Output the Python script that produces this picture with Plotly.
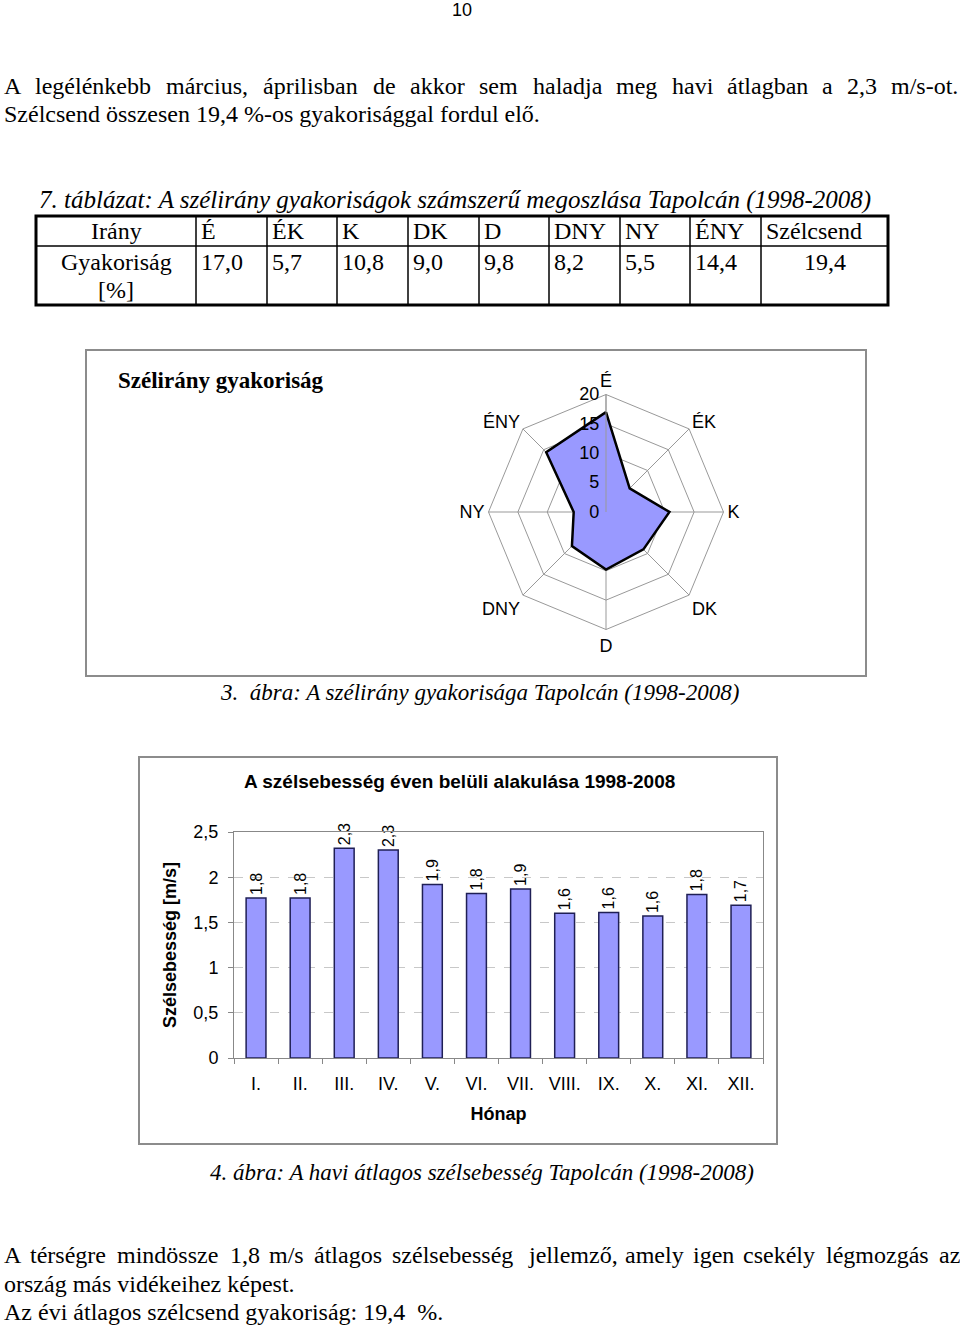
import plotly.graph_objects as go

W, H = 960, 1326
SERIF = "Liberation Serif"
SANS = "Liberation Sans"

# wind direction frequencies (table 7 / figure 3)
directions = ["É", "ÉK", "K", "DK", "D", "DNY", "NY", "ÉNY"]
frequency = [17.0, 5.7, 10.8, 9.0, 9.8, 8.2, 5.5, 14.4]
calm_label = "Szélcsend"
calm_freq = 19.4
radial_ticks = [0, 5, 10, 15, 20]

# monthly mean wind speed (figure 4)
months = ["I.", "II.", "III.", "IV.", "V.", "VI.", "VII.", "VIII.", "IX.", "X.", "XI.", "XII."]
wind_speed = [1.77, 1.77, 2.32, 2.30, 1.92, 1.82, 1.87, 1.60, 1.61, 1.57, 1.81, 1.69]
speed_ticks = [0, 0.5, 1, 1.5, 2, 2.5]

# page text
para1_line1 = "A legélénkebb március, áprilisban de akkor sem haladja meg havi átlagban a 2,3 m/s-ot."
para1_line2 = "Szélcsend összesen 19,4 %-os gyakorisággal fordul elő."
para2_line1 = "A térségre mindössze 1,8 m/s átlagos szélsebesség jellemző, amely igen csekély légmozgás az"
para2_line2 = "ország más vidékeihez képest."
para2_line3 = "Az évi átlagos szélcsend gyakoriság: 19,4  %."
table_title = "7. táblázat: A szélirány gyakoriságok számszerű megoszlása Tapolcán (1998-2008)"
caption3 = "3.  ábra: A szélirány gyakorisága Tapolcán (1998-2008)"
caption4 = "4. ábra: A havi átlagos szélsebesség Tapolcán (1998-2008)"

# rough Times/Liberation Serif advance widths (per 1000 em) for justifying lines
GLYPH_W = {c: 500 for c in "bdghnopquvxy0123456789öőüóú"}
GLYPH_W.update({c: 444 for c in "aceszáé"})
GLYPH_W.update({c: 278 for c in "ijltí/"})
GLYPH_W.update({"f": 333, "r": 333, "-": 333, "m": 778, "k": 500, ",": 250, ".": 250,
                "A": 722, "S": 556, "%": 833})


def word_width(word, size):
    return sum(GLYPH_W.get(c, 500) for c in word) * size / 1000


def fx(x):
    return x / W


def fy(y):
    return 1 - y / H


def comma(v):
    return f"{v:.1f}".replace(".", ",")


annotations = []
shapes = []


def text(x, y, s, size=24, family=SERIF, anchor="left", **kw):
    annotations.append(dict(
        x=fx(x), y=fy(y), xref="paper", yref="paper", text=s, showarrow=False,
        xanchor=anchor, yanchor="middle", font=dict(family=family, size=size, color="black"), **kw))


def justified(line_text, y, left=2, right=958, size=24):
    words = line_text.split(" ")
    widths = [word_width(w, size) for w in words]
    gap = (right - left - sum(widths)) / (len(words) - 1)
    x = left
    for w, wd in zip(words, widths):
        text(x, y, w, size=size)
        x += wd + gap


def rect(x0, y0, x1, y1, color, width):
    shapes.append(dict(type="rect", xref="paper", yref="paper", x0=fx(x0), x1=fx(x1),
                       y0=fy(y0), y1=fy(y1), line=dict(color=color, width=width)))


def line(x0, y0, x1, y1, width=1.5):
    shapes.append(dict(type="line", xref="paper", yref="paper", x0=fx(x0), x1=fx(x1),
                       y0=fy(y0), y1=fy(y1), line=dict(color="black", width=width)))


# page number
text(462, 10, "10", size=18, family=SANS, anchor="center")

justified(para1_line1, 86)
text(2, 114, para1_line2)

justified(para2_line1, 1255)
text(2, 1284, para2_line2)
text(2, 1312, para2_line3)

# table
text(37, 200, table_title, size=25, font_style="italic")
col_edges = [36, 196, 267, 337, 408, 479, 549, 620, 690, 761, 888]
rect(36, 216, 888, 305, "black", 3)
line(36, 246, 888, 246)
for x in col_edges[1:-1]:
    line(x, 216, x, 305)
text((col_edges[0] + col_edges[1]) / 2, 231, "Irány", anchor="center")
text((col_edges[0] + col_edges[1]) / 2, 262, "Gyakoriság", anchor="center")
text((col_edges[0] + col_edges[1]) / 2, 290, "[%]", anchor="center")
for i, (d, v) in enumerate(zip(directions, frequency)):
    text(col_edges[i + 1] + 3, 231, d)
    text(col_edges[i + 1] + 3, 262, comma(v))
text(col_edges[-2] + 3, 231, calm_label)
text((col_edges[-2] + col_edges[-1]) / 2, 262, comma(calm_freq), anchor="center")

# radar chart frame
rect(86, 350, 866, 676, "#8c8c8c", 2)
text(116, 381, "<b>Szélirány gyakoriság</b>", size=23)
text(218, 692, caption3, size=23, font_style="italic")

# bar chart frame
rect(139, 757, 777, 1144, "#8c8c8c", 2)
text(459, 781, "<b>A szélsebesség éven belüli alakulása 1998-2008</b>", size=19, family=SANS, anchor="center")
text(208, 1172, caption4, size=23, font_style="italic")

fig = go.Figure()

fig.add_trace(go.Scatterpolar(
    r=frequency + frequency[:1], theta=directions + directions[:1],
    mode="lines", fill="toself", fillcolor="#9999FF",
    line=dict(color="black", width=2.5), showlegend=False))

fig.add_trace(go.Bar(
    x=months, y=wind_speed, width=0.45,
    marker=dict(color="#9999FF", line=dict(color="#1f1f55", width=1.5)),
    texttemplate="%{y:.1f}", textposition="outside", textangle=-90,
    constraintext="none", cliponaxis=False,
    textfont=dict(family=SANS, size=16, color="black"),
    showlegend=False))

cx, cy, r = 606, 512, 117.5
fig.update_layout(
    width=W, height=H, margin=dict(l=0, r=0, t=0, b=0),
    paper_bgcolor="white", plot_bgcolor="white",
    separators=", ",
    font=dict(family=SANS, color="black"),
    showlegend=False,
    polar=dict(
        domain=dict(x=[fx(cx - r), fx(cx + r)], y=[fy(cy + r), fy(cy - r)]),
        bgcolor="white", gridshape="linear",
        angularaxis=dict(direction="clockwise", rotation=90, gridcolor="#999999",
                         linecolor="#999999", linewidth=1, ticks="",
                         tickfont=dict(family=SANS, size=18, color="black")),
        radialaxis=dict(range=[0, 20], tickvals=radial_ticks, angle=90, tickangle=90,
                        side="counterclockwise", showline=True, linecolor="#999999",
                        gridcolor="#999999", ticks="",
                        tickfont=dict(family=SANS, size=18, color="black")),
    ),
    xaxis=dict(domain=[fx(234), fx(763)], anchor="y", automargin=False,
               showline=True, linecolor="#888888", mirror=True,
               ticks="outside", tickson="boundaries", ticklen=5, tickcolor="#888888",
               ticklabelstandoff=9, showgrid=False,
               tickfont=dict(family=SANS, size=18, color="black"),
               title=dict(text="<b>Hónap</b>", standoff=14,
                          font=dict(family=SANS, size=18, color="black"))),
    yaxis=dict(domain=[fy(1058), fy(832)], anchor="x", automargin=False,
               range=[0, 2.5], tickvals=speed_ticks,
               showline=True, linecolor="#888888", mirror=True,
               ticks="outside", ticklen=5, tickcolor="#888888", ticklabelstandoff=6,
               showgrid=True, gridcolor="#c8c8c8", griddash="dash", zeroline=False,
               tickfont=dict(family=SANS, size=18, color="black"),
               title=dict(text="<b>Szélsebesség [m/s]</b>", standoff=12,
                          font=dict(family=SANS, size=18, color="black"))),
    annotations=annotations,
    shapes=shapes,
)

# drop the browser's default body margin so the page lines up with the figure
fig.write_html("out.html", config={"displayModeBar": False},
               post_script="document.body.style.margin = '0';")
